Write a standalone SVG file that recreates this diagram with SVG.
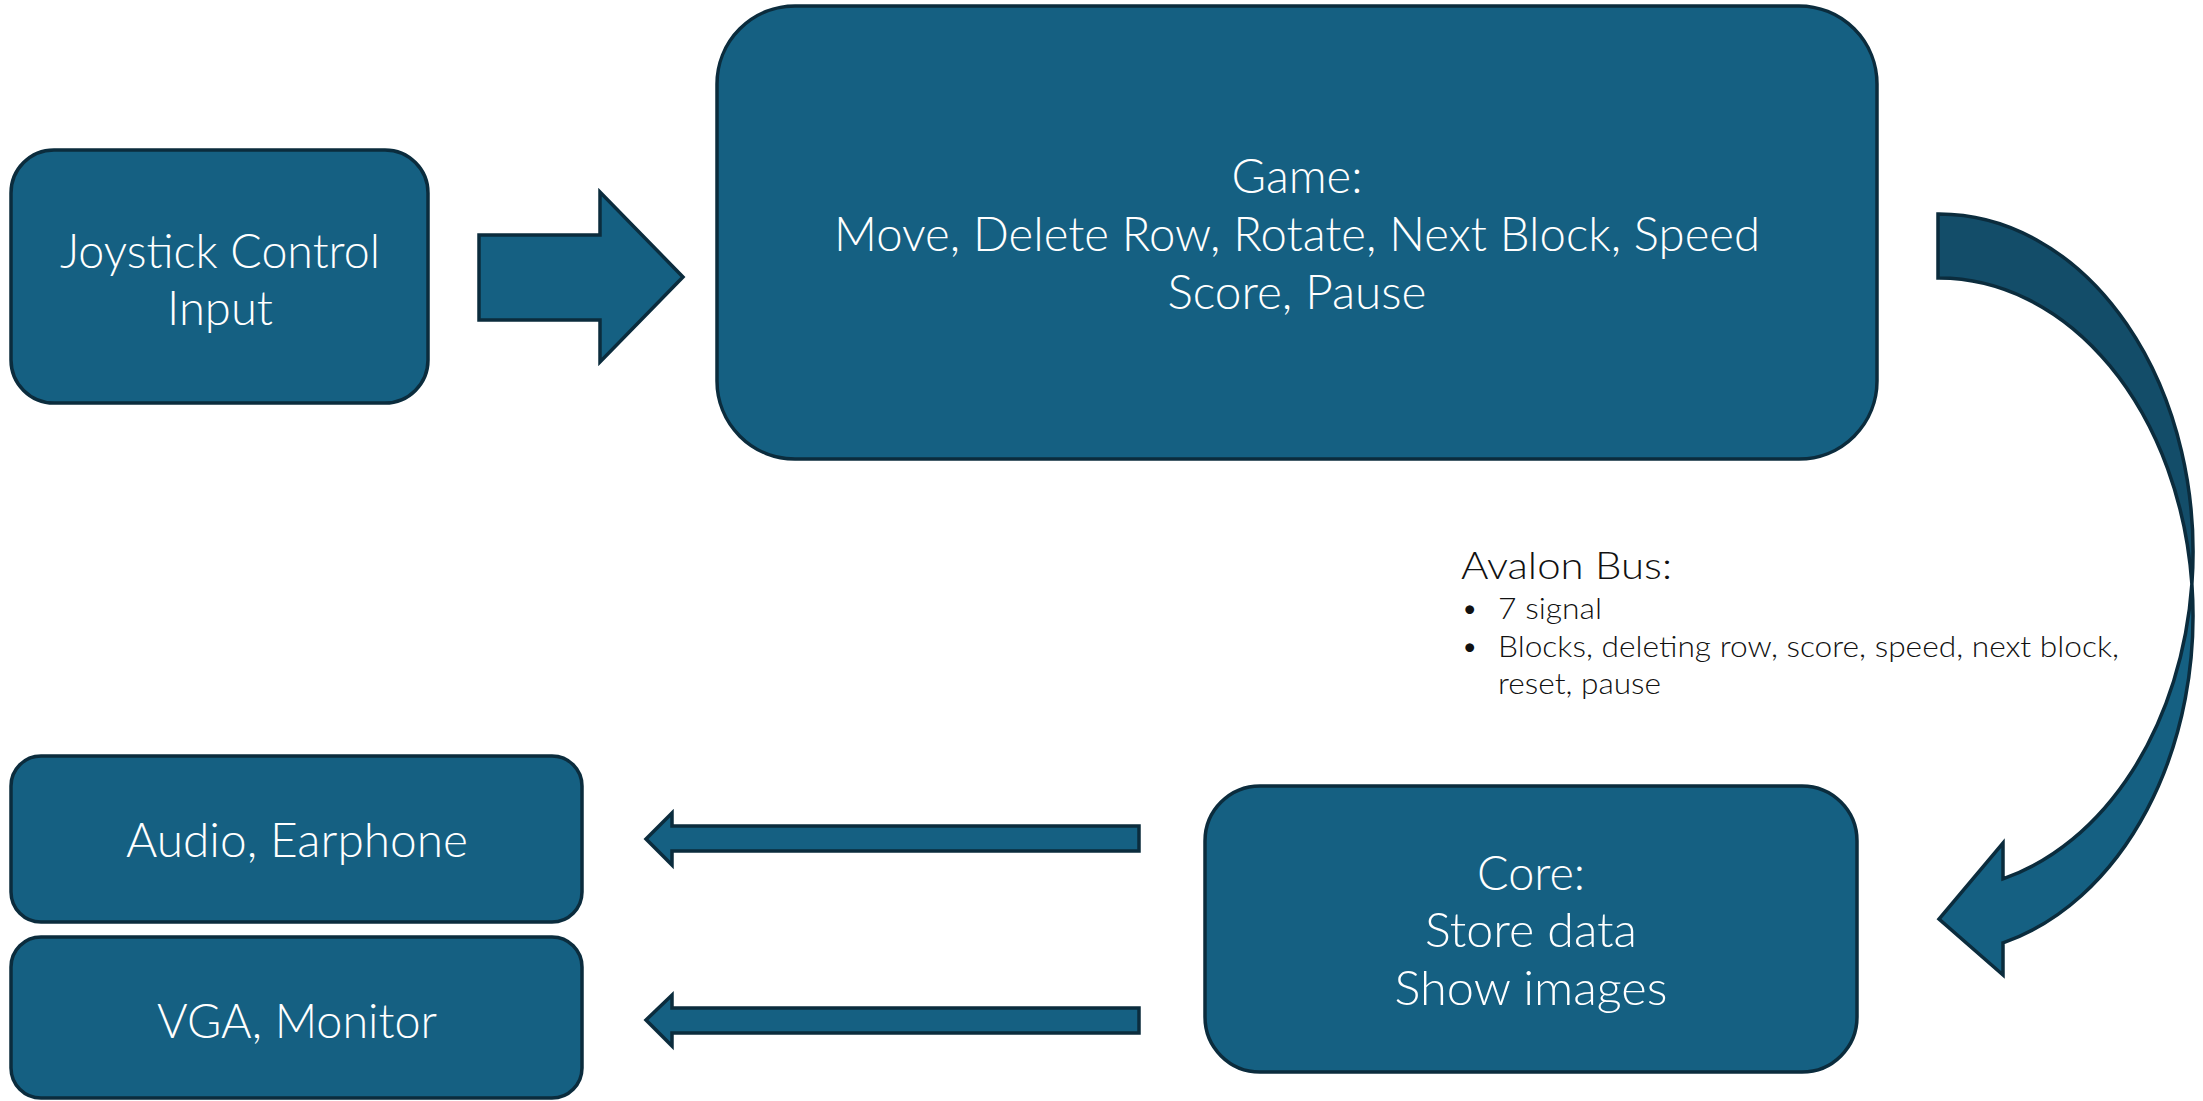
<svg xmlns="http://www.w3.org/2000/svg" width="2203" height="1101" viewBox="0 0 2203 1101">
<style>
.box{fill:#156082;stroke:#0B2C3D;stroke-width:3.5}
.arrow{fill:#156082;stroke:#0B2C3D;stroke-width:3.5;stroke-linejoin:miter}
.shade{fill:#134D69;stroke:#0B2C3D;stroke-width:3.5}
.lbl{font-family:Lato,"Liberation Sans",sans-serif;font-weight:300;font-size:48px;fill:#FFFFFF;text-anchor:middle}
.note{font-family:Lato,"Liberation Sans",sans-serif;font-weight:300;fill:#111111}
</style>
<rect width="2203" height="1101" fill="#FFFFFF"/>
<g id="connectors">
<path class="arrow" d="M479,235 H600 V192 L683,277 L600,362 V320 H479 Z"/>
<path class="arrow" d="M1139,826 H672 V813 L646,839 L672,865 V851 H1139 Z"/>
<path class="arrow" d="M1139,1008 H672 V995 L646,1020 L672,1046 V1033 H1139 Z"/>
<path class="shade" d="M1938,214 A254,338 0 0 1 2191.9,584 A254,338 0 0 0 1938,278 Z"/>
<path class="arrow" d="M2191.9,584 A254,338 0 0 1 2003,942.8 V975 L1939,919 L2003,843 V878.8 A254,338 0 0 0 2191.9,584 Z"/>
</g>
<g id="joystick">
<rect class="box" x="11" y="150" width="417" height="253" rx="43"/>
<text class="lbl" x="220" y="268" textLength="320" lengthAdjust="spacingAndGlyphs">Joystick Control</text>
<text class="lbl" x="220" y="325" textLength="106" lengthAdjust="spacingAndGlyphs">Input</text>
</g>
<g id="game">
<rect class="box" x="717" y="6" width="1160" height="453" rx="78"/>
<text class="lbl" x="1297" y="193" textLength="131" lengthAdjust="spacingAndGlyphs">Game:</text>
<text class="lbl" x="1297" y="251" textLength="926" lengthAdjust="spacingAndGlyphs">Move, Delete Row, Rotate, Next Block, Speed</text>
<text class="lbl" x="1297" y="309" textLength="259" lengthAdjust="spacingAndGlyphs">Score, Pause</text>
</g>
<g id="avalon-note">
<text class="note" x="1461" y="579" font-size="38" textLength="211" lengthAdjust="spacingAndGlyphs">Avalon Bus:</text>
<text class="note" x="1461" y="619" font-size="30">•</text>
<text class="note" x="1498" y="619" font-size="30" textLength="104" lengthAdjust="spacingAndGlyphs">7 signal</text>
<text class="note" x="1461" y="657" font-size="30">•</text>
<text class="note" x="1498" y="657" font-size="30" textLength="621" lengthAdjust="spacingAndGlyphs">Blocks, deleting row, score, speed, next block,</text>
<text class="note" x="1498" y="694" font-size="30" textLength="163" lengthAdjust="spacingAndGlyphs">reset, pause</text>
</g>
<g id="audio">
<rect class="box" x="11" y="756" width="571" height="166" rx="30"/>
<text class="lbl" x="297" y="857" textLength="342" lengthAdjust="spacingAndGlyphs">Audio, Earphone</text>
</g>
<g id="vga">
<rect class="box" x="11" y="937" width="571" height="161" rx="30"/>
<text class="lbl" x="297" y="1038" textLength="280" lengthAdjust="spacingAndGlyphs">VGA, Monitor</text>
</g>
<g id="core">
<rect class="box" x="1205" y="786" width="652" height="286" rx="55"/>
<text class="lbl" x="1531" y="890" textLength="108" lengthAdjust="spacingAndGlyphs">Core:</text>
<text class="lbl" x="1531" y="947" textLength="212" lengthAdjust="spacingAndGlyphs">Store data</text>
<text class="lbl" x="1531" y="1005" textLength="273" lengthAdjust="spacingAndGlyphs">Show images</text>
</g>
</svg>
